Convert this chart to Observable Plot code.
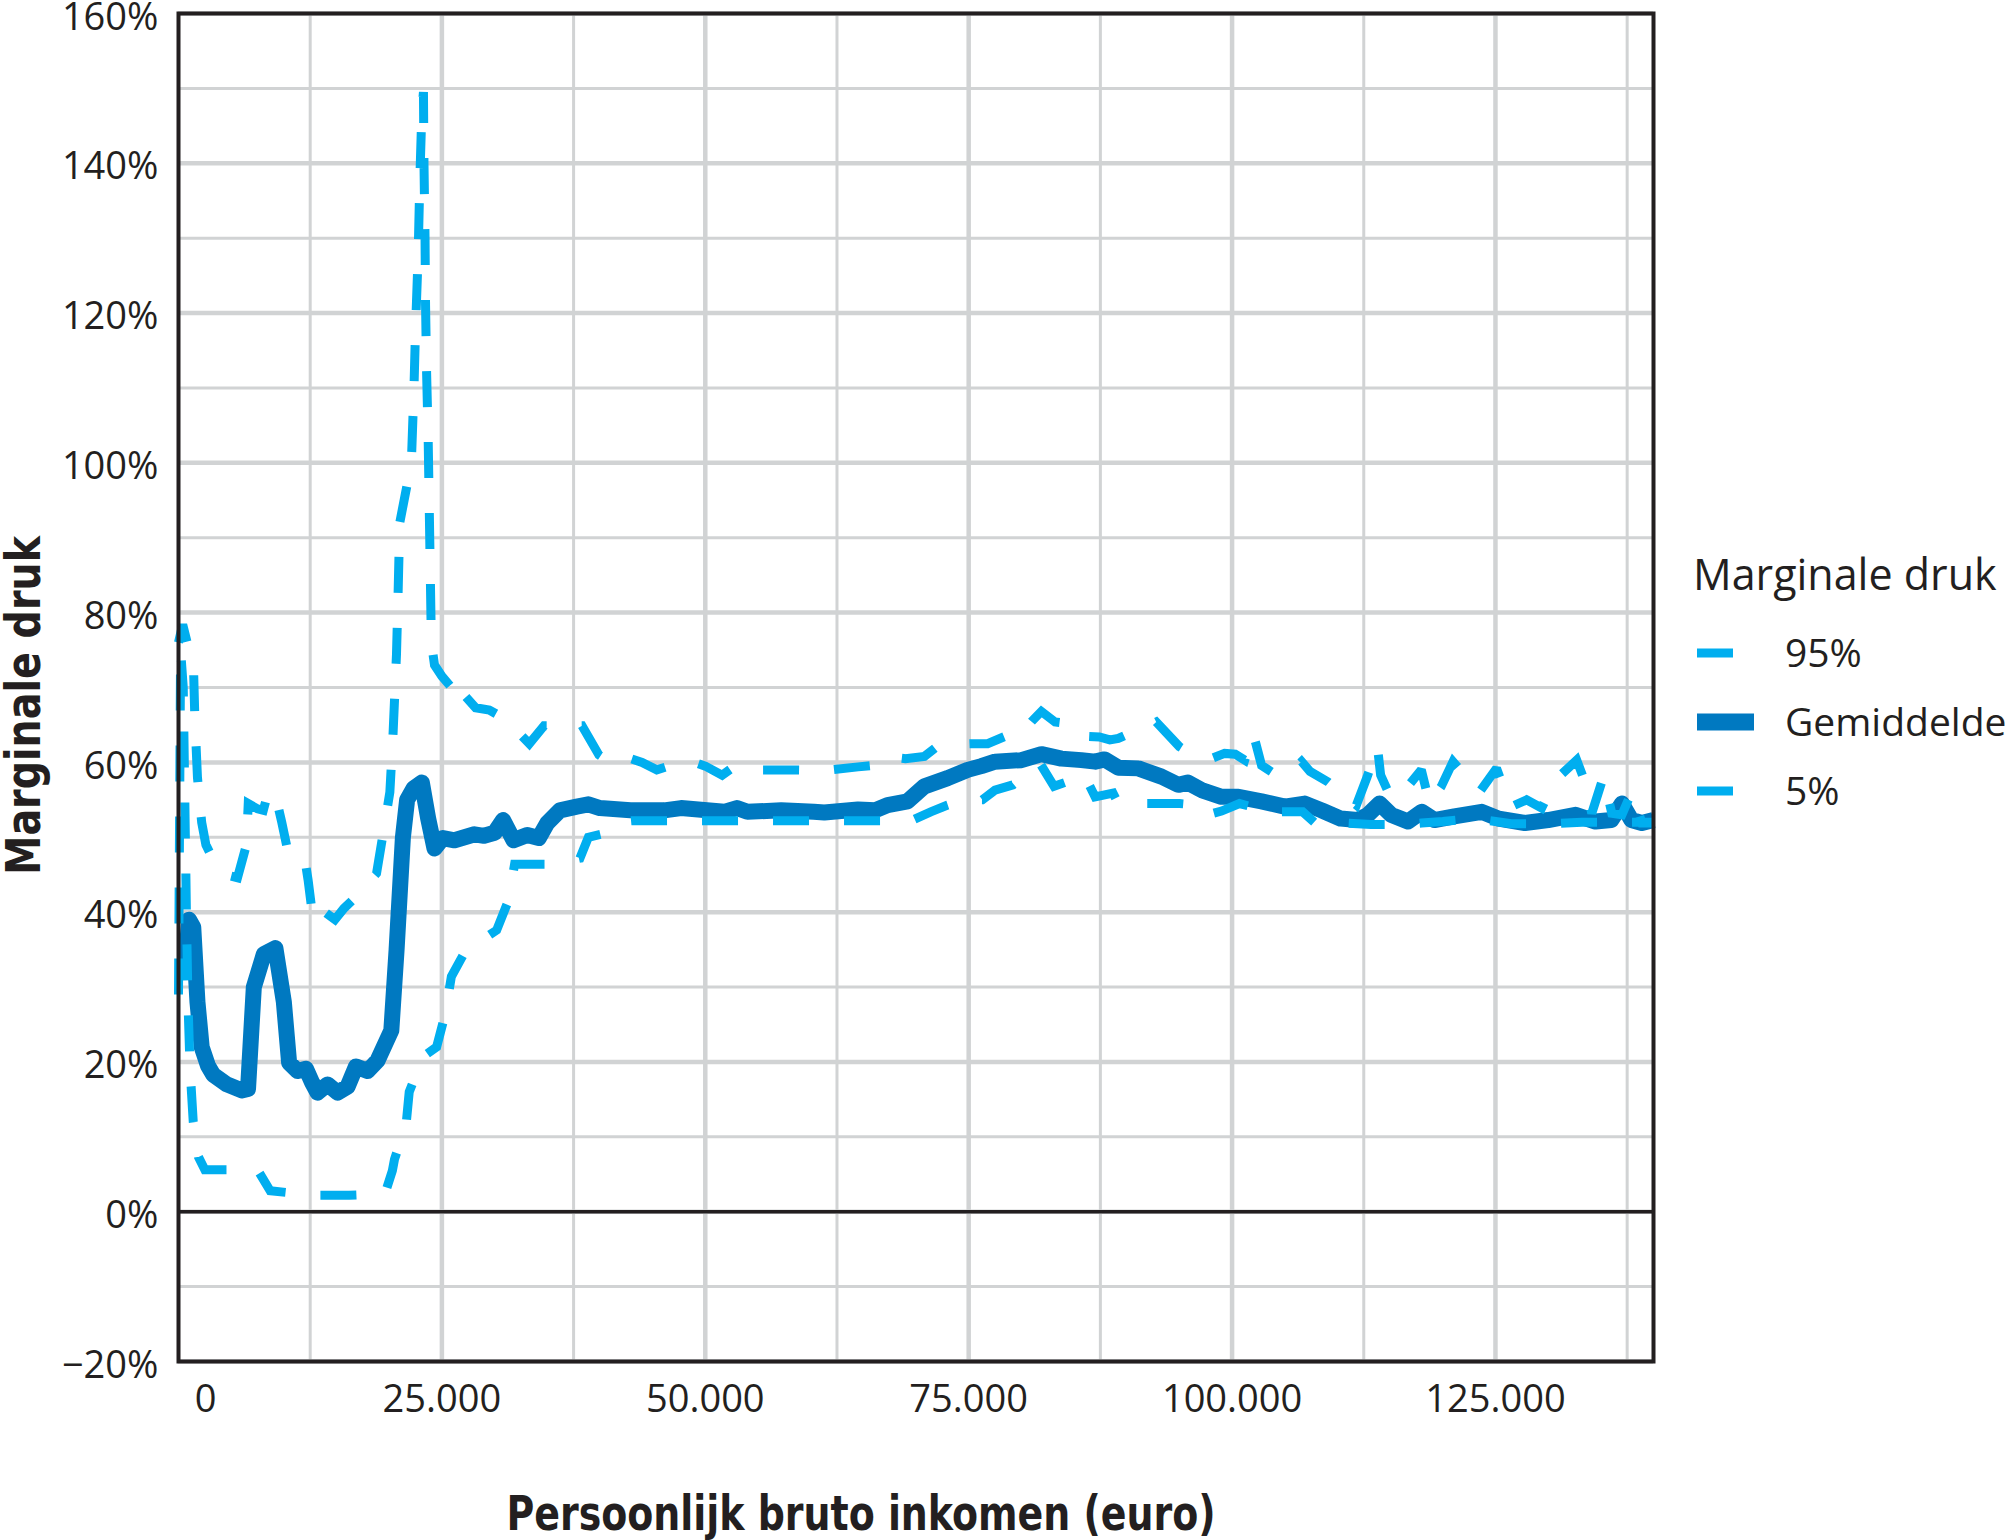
<!DOCTYPE html>
<html><head><meta charset="utf-8">
<script src="https://cdn.jsdelivr.net/npm/d3@7"></script>
<script src="https://cdn.jsdelivr.net/npm/@observablehq/plot@0.6"></script>
<style>
body{margin:0;background:#fff;}
#wrap{position:relative;width:2009px;height:1540px;overflow:hidden;}
#legend{position:absolute;left:1680px;top:530px;}
</style></head><body><div id="wrap"></div>
<script>
// ---- data ----
const xTickValues = [0, 25000, 50000, 75000, 100000, 125000];
const xMinorGrid = [12500, 37500, 62500, 87500, 112500, 137500];
const xMajorGrid = [25000, 50000, 75000, 100000, 125000];
const yTickValues = [-20, 0, 20, 40, 60, 80, 100, 120, 140, 160];
const yMinorGrid = [-10, 10, 30, 50, 70, 90, 110, 130, 150];
const seriesNames = ["95%", "Gemiddelde", "5%"];
const legendTitle = "Marginale druk";
const xTitle = "Persoonlijk bruto inkomen (euro)";
const yTitle = "Marginale druk";

const p95 = [[0,76],[400,78.4],[1000,75],[1400,74],[1550,66],[1800,58],[2200,52],[2600,49],[3800,45.5],[4500,45],[5600,44.6],[6450,49],[6620,54.5],[7500,53.8],[8050,53.6],[8500,56],[9150,56],[9800,52],[10400,48],[10900,47.3],[12000,47],[12300,44.3],[12800,38.7],[13900,40],[14850,39],[15700,40.5],[16600,41.7],[18800,45.2],[19400,50.3],[20060,56],[20370,64],[20690,74.4],[20850,83],[21000,92],[22100,100],[22350,110],[22500,118],[22750,128],[22900,137.5],[23100,147],[23250,149.5],[23300,140],[23400,130],[23450,121],[23550,112],[23700,103],[23800,94],[23900,85],[24000,76],[24300,73],[25000,71.5],[26150,69.6],[26700,67.5],[27250,68.8],[28200,67.3],[29500,67],[31000,65.8],[33300,62.5],[34700,64.9],[38300,64.9],[39900,61],[41200,59.8],[42700,60.6],[44000,60],[45400,59],[48300,60.3],[50000,59.5],[51600,58.3],[52900,59.6],[54500,59],[58100,59],[61300,58.9],[64500,59.4],[66000,59.6],[67200,60.8],[69000,60.5],[70800,60.8],[71800,61.9],[73700,62.4],[75500,62.5],[76800,62.5],[79000,63.8],[79800,63.5],[81000,65.5],[81900,66.8],[83200,65.4],[84400,65.2],[84750,64.3],[86000,63.5],[87400,63.4],[88400,63],[89200,63.2],[90300,63.9],[91500,64.5],[92800,65.4],[95000,62.1],[96500,60.8],[98000,60.5],[99300,61.2],[100300,61.1],[101200,60.3],[102000,63.9],[102800,59.6],[104000,58.5],[105300,58.3],[106600,60.1],[107400,58.8],[109100,57.4],[111800,54.3],[112800,58],[113800,62.1],[114100,58.3],[115100,55.2],[116500,56.5],[117960,59],[118750,54.5],[119860,56.8],[120970,60.1],[121760,58.8],[123510,56.1],[125100,59.2],[125800,56.5],[126520,54.1],[127950,55],[129380,53.9],[130650,57.6],[132710,60.3],[133660,56.8],[134140,53.2],[135250,58.1],[136040,53.2],[137000,53],[137950,56.1],[138900,51.9],[140000,51.9]];

const mean = [[0,32.5],[700,33],[1000,39],[1400,38],[1800,28],[2200,22],[2800,19.5],[3300,18.3],[4600,17],[6000,16.2],[6600,16.4],[7150,30],[8100,34.4],[9200,35.2],[10000,28],[10500,19.9],[11300,18.8],[12100,19.1],[12700,17.2],[13200,15.9],[14150,17],[15100,15.9],[16050,16.7],[16850,19.4],[17950,18.8],[18900,20.2],[20200,24.2],[20700,35],[21300,50],[21700,55],[22300,56.5],[23100,57.3],[23700,52.5],[24300,48.5],[25100,49.9],[26200,49.6],[28100,50.4],[29000,50.2],[30000,50.6],[30800,52.3],[31800,49.6],[33100,50.3],[34200,49.9],[35000,51.9],[36200,53.6],[37800,54.1],[38900,54.4],[40000,53.9],[42900,53.6],[46100,53.6],[47700,53.9],[51800,53.4],[53000,53.9],[54000,53.4],[57200,53.6],[60300,53.4],[61300,53.3],[64500,53.7],[66100,53.6],[67300,54.3],[69200,54.8],[70800,56.8],[73000,57.9],[74900,59],[76200,59.5],[77500,60.1],[80000,60.3],[81900,61.1],[83800,60.5],[85700,60.3],[87000,60.1],[87900,60.4],[89200,59.3],[91100,59.2],[93300,58.1],[94900,57],[95800,57.3],[97100,56.3],[99000,55.4],[100600,55.4],[102800,54.8],[105000,54.1],[106900,54.5],[108500,53.6],[110300,52.5],[111900,52.3],[112900,53],[114000,54.5],[115100,53],[116700,52.1],[118000,53.4],[119200,52.3],[121100,52.8],[123700,53.4],[125300,52.5],[127800,51.9],[130000,52.3],[132600,53],[134500,52.1],[136000,52.3],[137000,54.5],[137900,52.3],[138900,51.9],[140000,52.3]];

const p5 = [[0,29],[200,75],[450,70],[600,55],[750,40],[900,28],[1100,19],[1400,12],[1900,7.3],[2500,5.6],[7500,5.6],[8700,2.8],[12800,2.2],[16200,2.2],[19600,2.4],[20300,5.5],[20500,7],[21600,11.6],[21900,16],[23200,20.7],[24500,22],[25300,26.3],[25900,31.4],[27300,35],[28500,36],[30200,37.6],[31300,41.5],[31900,46.4],[35500,46.4],[38100,47.2],[38900,50],[40100,50.4],[41500,52],[43000,52.2],[69500,52.2],[71400,53.4],[73000,54.3],[74500,55],[76300,55],[77500,56.3],[79200,57],[80500,58.5],[81800,59.8],[83100,56.8],[84500,57.5],[85900,58.5],[87000,55.4],[88700,55.9],[89200,54.5],[91400,54.5],[95000,54.5],[96800,54.3],[97700,53],[99000,53.5],[100700,54.5],[103700,53.4],[106700,53.4],[107900,51.9],[109600,52],[113200,51.7],[116400,51.7],[118000,51.9],[120000,52.1],[122900,52.5],[124500,52.2],[126500,51.8],[129900,51.8],[133200,52],[136700,52],[140000,52]];

// ---- styles ----
const LIGHT = "#00aeef", DARK = "#0079c1", GRID = "#d1d3d4", INK = "#231f20";
const FONT = "'Open Sans', 'Noto Sans', sans-serif";
const COND = "'Liberation Sans Narrow', 'DejaVu Sans Condensed', 'Roboto', sans-serif";
const fmtX = d => d3.format(",")(d).replace(/,/g, ".");
const fmtY = d => (d < 0 ? "\u2212" + (-d) : d) + "%";

const chart = Plot.plot({
  width: 2009, height: 1540,
  marginLeft: 178, marginRight: 356, marginTop: 13, marginBottom: 179,
  x: {domain: [0, 140000]},
  y: {domain: [-20, 160]},
  style: {fontFamily: FONT, fontSize: "38px", color: INK, background: "#fff", overflow: "visible"},
  marks: [
    Plot.gridX(xMinorGrid, {stroke: GRID, strokeOpacity: 1, strokeWidth: 3}),
    Plot.gridX(xMajorGrid, {stroke: GRID, strokeOpacity: 1, strokeWidth: 4.5}),
    Plot.gridY(yMinorGrid, {stroke: GRID, strokeOpacity: 1, strokeWidth: 3}),
    Plot.gridY(yTickValues, {stroke: GRID, strokeOpacity: 1, strokeWidth: 4.5}),
    Plot.ruleY([0], {stroke: INK, strokeWidth: 3.5}),
    Plot.line(mean, {x: d => d[0], y: d => d[1], stroke: DARK, strokeWidth: 16, strokeLinejoin: "round", strokeLinecap: "butt"}),
    Plot.line(p5, {x: d => d[0], y: d => d[1], stroke: LIGHT, strokeWidth: 9, strokeDasharray: "36,35", strokeLinecap: "butt", strokeLinejoin: "miter", strokeMiterlimit: 2}),
    Plot.line(p95, {x: d => d[0], y: d => d[1], stroke: LIGHT, strokeWidth: 9, strokeDasharray: "36,35", strokeLinecap: "butt", strokeLinejoin: "miter", strokeMiterlimit: 2}),
    Plot.frame({stroke: INK, strokeWidth: 4}),
    Plot.axisY(yTickValues, {tickSize: 0, tickPadding: 20, tickFormat: fmtY, label: null, fill: INK, dy: 4}),
    Plot.axisX(xTickValues.slice(1), {tickSize: 0, tickPadding: 24, tickFormat: fmtX, label: null, fill: INK}),
    Plot.axisX(xTickValues.slice(0, 1), {tickSize: 0, tickPadding: 24, tickFormat: fmtX, label: null, fill: INK, dx: 27}),
    Plot.text([xTitle], {text: d => d, frameAnchor: "bottom", textAnchor: "middle", dx: -55, dy: 153, lineAnchor: "middle", fontFamily: COND, fontWeight: "bold", fontSize: 48, fill: INK}),
    Plot.text([yTitle], {text: d => d, frameAnchor: "left", textAnchor: "middle", rotate: -90, dx: -154, dy: 18, lineAnchor: "middle", fontFamily: COND, fontWeight: "bold", fontSize: 48, fill: INK})
  ]
});
document.getElementById("wrap").appendChild(chart);

// force title widths to the reference's
d3.select(chart).selectAll("g[aria-label='text'] text").each(function() {
  const t = this.textContent;
  const sel = d3.select(this);
  if (t === xTitle) sel.attr("textLength", 709).attr("lengthAdjust", "spacingAndGlyphs");
  else if (t === yTitle) sel.attr("textLength", 339).attr("lengthAdjust", "spacingAndGlyphs");
});

// ---- legend ----
const legendStyle = [
  {color: LIGHT, len: 36, w: 9},
  {color: DARK, len: 57, w: 17},
  {color: LIGHT, len: 36, w: 9}
];
const lg = d3.select("#wrap").append("svg").attr("id", "legend").attr("width", 329).attr("height", 300)
  .style("font-family", FONT).style("overflow", "visible");
lg.append("text").attr("x", 13).attr("y", 60).attr("font-size", 43).attr("fill", INK).text(legendTitle);
seriesNames.forEach((name, i) => {
  const cy = 123 + i * 69;
  const s = legendStyle[i];
  lg.append("line").attr("x1", 17).attr("x2", 17 + s.len).attr("y1", cy).attr("y2", cy)
    .attr("stroke", s.color).attr("stroke-width", s.w);
  lg.append("text").attr("x", 105).attr("y", cy).attr("dy", "0.36em").attr("font-size", 39).attr("fill", INK).text(name);
});
</script>
</body></html>
